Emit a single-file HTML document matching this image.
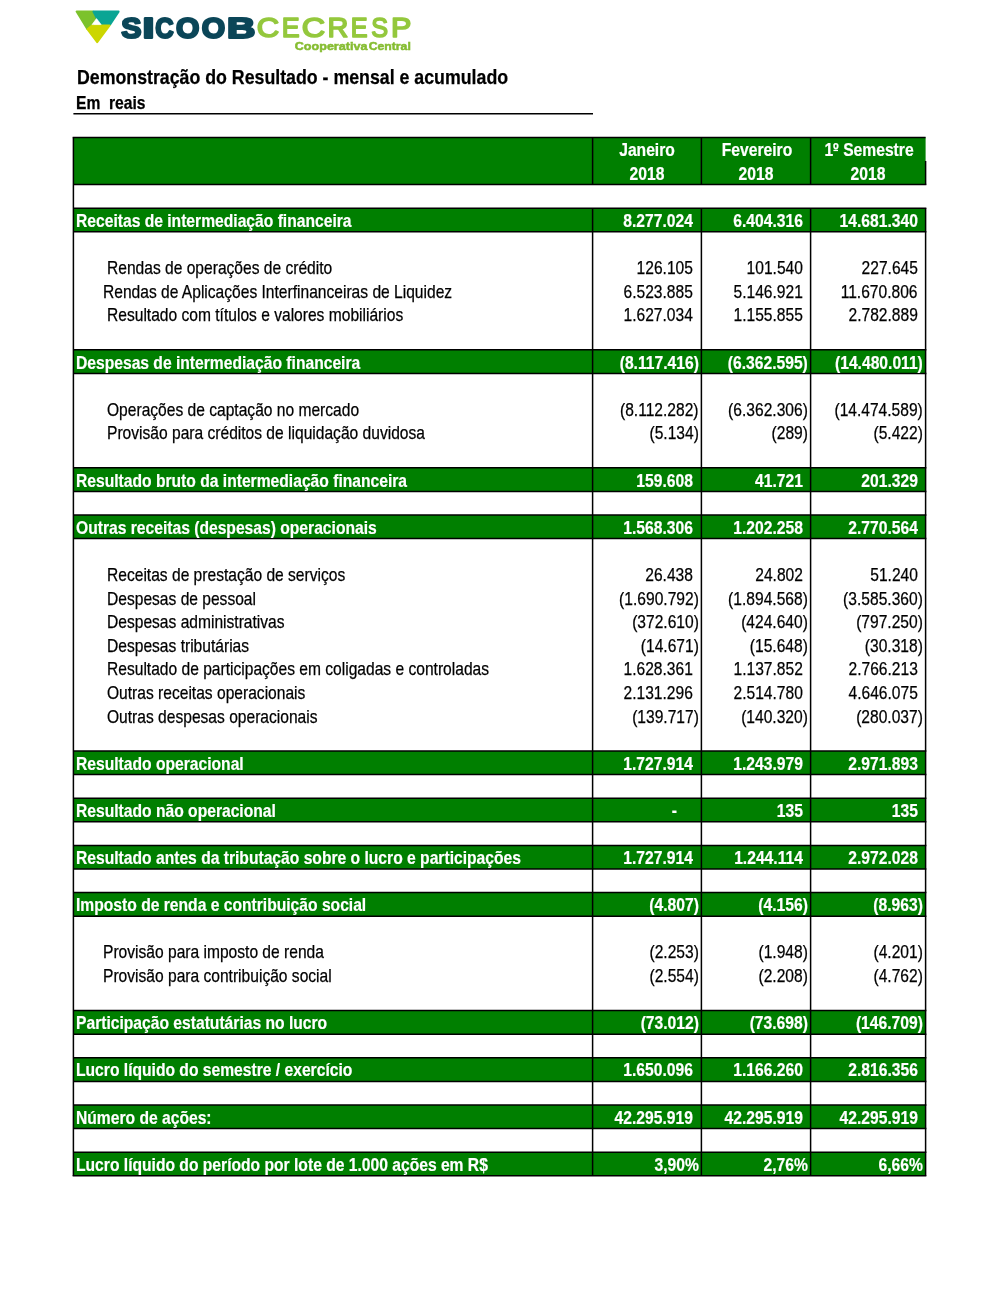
<!DOCTYPE html>
<html lang="pt-BR">
<head>
<meta charset="utf-8">
<title>Demonstração do Resultado - mensal e acumulado</title>
<style>
html,body{margin:0;padding:0;background:#fff;}
body{width:1000px;height:1294px;position:relative;overflow:hidden;font-family:"Liberation Sans",Arial,Helvetica,sans-serif;color:#000;}
#grid,#logo{position:absolute;left:0;top:0;}
#logo{filter:blur(0.35px);}
#grid line{stroke:#000;stroke-width:1.5;}
.l,.r,.c{position:absolute;white-space:pre;font-size:17.97px;line-height:24px;height:24px;transform:scaleX(0.868);}
.l{transform-origin:0 0;}
.r{transform-origin:100% 0;text-align:right;}
.c{transform-origin:50% 0;text-align:center;width:200px;}
.l,.r{-webkit-text-stroke:0.25px #000;}
.b{font-weight:bold;transform:scaleX(0.871);-webkit-text-stroke:0.2px #fff;}
.w{color:#fff;}
#title,#sub{-webkit-text-stroke:0.25px #000;}
#title{position:absolute;left:77.0px;top:63.5px;font-size:20.6px;line-height:26px;font-weight:bold;white-space:pre;transform:scaleX(0.862);transform-origin:0 0;}
#sub{position:absolute;left:76.4px;top:91px;font-size:17.97px;line-height:24px;font-weight:bold;white-space:pre;transform:scaleX(0.871);transform-origin:0 0;}
</style>
</head>
<body>
<svg id="grid" width="1000" height="1294" viewBox="0 0 1000 1294">
<rect x="73.4" y="137.4" width="852.2" height="47.2" fill="#007f00"/>
<rect x="73.4" y="208.20" width="852.20" height="23.6" fill="#007f00"/>
<rect x="73.4" y="349.80" width="852.20" height="23.6" fill="#007f00"/>
<rect x="73.4" y="467.80" width="852.20" height="23.6" fill="#007f00"/>
<rect x="73.4" y="515.00" width="852.20" height="23.6" fill="#007f00"/>
<rect x="73.4" y="751.00" width="852.20" height="23.6" fill="#007f00"/>
<rect x="73.4" y="798.20" width="852.20" height="23.6" fill="#007f00"/>
<rect x="73.4" y="845.40" width="852.20" height="23.6" fill="#007f00"/>
<rect x="73.4" y="892.60" width="852.20" height="23.6" fill="#007f00"/>
<rect x="73.4" y="1010.60" width="852.20" height="23.6" fill="#007f00"/>
<rect x="73.4" y="1057.80" width="852.20" height="23.6" fill="#007f00"/>
<rect x="73.4" y="1105.00" width="852.20" height="23.6" fill="#007f00"/>
<rect x="73.4" y="1152.20" width="852.20" height="23.6" fill="#007f00"/>
<line x1="72.65" y1="137.40" x2="925.60" y2="137.40"/>
<line x1="73.40" y1="184.60" x2="926.35" y2="184.60"/>
<line x1="73.40" y1="208.20" x2="926.35" y2="208.20"/>
<line x1="73.40" y1="231.80" x2="926.35" y2="231.80"/>
<line x1="73.40" y1="349.80" x2="926.35" y2="349.80"/>
<line x1="73.40" y1="373.40" x2="926.35" y2="373.40"/>
<line x1="73.40" y1="467.80" x2="926.35" y2="467.80"/>
<line x1="73.40" y1="491.40" x2="926.35" y2="491.40"/>
<line x1="73.40" y1="515.00" x2="926.35" y2="515.00"/>
<line x1="73.40" y1="538.60" x2="926.35" y2="538.60"/>
<line x1="73.40" y1="751.00" x2="926.35" y2="751.00"/>
<line x1="73.40" y1="774.60" x2="926.35" y2="774.60"/>
<line x1="73.40" y1="798.20" x2="926.35" y2="798.20"/>
<line x1="73.40" y1="821.80" x2="926.35" y2="821.80"/>
<line x1="73.40" y1="845.40" x2="926.35" y2="845.40"/>
<line x1="73.40" y1="869.00" x2="926.35" y2="869.00"/>
<line x1="73.40" y1="892.60" x2="926.35" y2="892.60"/>
<line x1="73.40" y1="916.20" x2="926.35" y2="916.20"/>
<line x1="73.40" y1="1010.60" x2="926.35" y2="1010.60"/>
<line x1="73.40" y1="1034.20" x2="926.35" y2="1034.20"/>
<line x1="73.40" y1="1057.80" x2="926.35" y2="1057.80"/>
<line x1="73.40" y1="1081.40" x2="926.35" y2="1081.40"/>
<line x1="73.40" y1="1105.00" x2="926.35" y2="1105.00"/>
<line x1="73.40" y1="1128.60" x2="926.35" y2="1128.60"/>
<line x1="73.40" y1="1152.20" x2="926.35" y2="1152.20"/>
<line x1="72.65" y1="1175.80" x2="926.35" y2="1175.80"/>
<line x1="73.4" y1="137.4" x2="73.4" y2="1175.8000000000002"/>
<line x1="592.6" y1="137.4" x2="592.6" y2="184.60000000000002"/>
<line x1="592.6" y1="208.20000000000002" x2="592.6" y2="1175.8000000000002"/>
<line x1="701.4" y1="137.4" x2="701.4" y2="184.60000000000002"/>
<line x1="701.4" y1="208.20000000000002" x2="701.4" y2="1175.8000000000002"/>
<line x1="810.6" y1="137.4" x2="810.6" y2="184.60000000000002"/>
<line x1="810.6" y1="208.20000000000002" x2="810.6" y2="1175.8000000000002"/>
<line x1="925.6" y1="161.0" x2="925.6" y2="184.60000000000002"/>
<line x1="925.6" y1="208.20000000000002" x2="925.6" y2="1175.8000000000002"/>
<rect x="833.4" y="149.8" width="4.6" height="1.3" fill="#fff"/>
<line x1="73.4" y1="113.7" x2="593" y2="113.7" stroke-width="1.6"/>
</svg>
<svg id="logo" width="440" height="62" viewBox="0 0 440 62">
<g stroke-linejoin="round" stroke-width="2">
<polygon points="76.6,11.6 93.0,11.6 96.5,18.2 92.4,24.8 87.0,28.6" fill="#7cc22c" stroke="#7cc22c"/>
<polygon points="93.4,11.6 118.6,11.6 110.0,24.6 101.8,24.6 96.5,17.6" fill="#0aa594" stroke="#0aa594"/>
<polygon points="92.4,25.4 109.6,25.4 97.2,42.2 87.4,29.2" fill="#ccd600" stroke="#ccd600"/>
<polygon points="96.5,18.6 101.2,24.6 92.0,24.6" fill="#fff" stroke="#fff" stroke-width="0.6"/>
</g>
<text y="37.7" font-family="'Liberation Sans',Arial,sans-serif" font-weight="bold" font-size="29.5" fill="#0b4658" stroke="#0b4658" stroke-width="2.2" stroke-linejoin="round"><tspan x="121.32" textLength="20.26" lengthAdjust="spacingAndGlyphs">S</tspan><tspan x="142.52" textLength="11.96" lengthAdjust="spacingAndGlyphs">I</tspan><tspan x="155.15" textLength="18.45" lengthAdjust="spacingAndGlyphs">C</tspan><tspan x="175.97" textLength="23.40" lengthAdjust="spacingAndGlyphs">O</tspan><tspan x="201.87" textLength="23.40" lengthAdjust="spacingAndGlyphs">O</tspan><tspan x="227.08" textLength="28.30" lengthAdjust="spacingAndGlyphs">B</tspan></text>
<text y="37.2" font-family="'Liberation Sans',Arial,sans-serif" font-size="27.4" fill="#94c83d" stroke="#94c83d" stroke-width="1.6" stroke-linejoin="round"><tspan x="256.87" textLength="22.41" lengthAdjust="spacingAndGlyphs">C</tspan><tspan x="281.75" textLength="17.91" lengthAdjust="spacingAndGlyphs">E</tspan><tspan x="301.86" textLength="23.38" lengthAdjust="spacingAndGlyphs">C</tspan><tspan x="327.49" textLength="20.80" lengthAdjust="spacingAndGlyphs">R</tspan><tspan x="350.73" textLength="16.86" lengthAdjust="spacingAndGlyphs">E</tspan><tspan x="371.20" textLength="16.86" lengthAdjust="spacingAndGlyphs">S</tspan><tspan x="391.10" textLength="20.36" lengthAdjust="spacingAndGlyphs">P</tspan></text>
<text y="49.7" font-family="'Liberation Sans',Arial,sans-serif" font-weight="bold" font-size="11.2" fill="#86bd32" stroke="#86bd32" stroke-width="0.5"><tspan x="294.8" textLength="72.6" lengthAdjust="spacingAndGlyphs">Cooperativa</tspan> <tspan x="368.7" textLength="42.1" lengthAdjust="spacingAndGlyphs">Central</tspan></text>
</svg>
<div id="title">Demonstração do Resultado - mensal e acumulado</div>
<div id="sub">Em  reais</div>
<div class="l b w" style="left:76.0px;top:209px">Receitas de intermediação financeira</div>
<div class="r b w" style="right:307.20px;top:209px">8.277.024</div>
<div class="r b w" style="right:197.20px;top:209px">6.404.316</div>
<div class="r b w" style="right:82.20px;top:209px">14.681.340</div>
<div class="l" style="left:106.9px;top:256px">Rendas de operações de crédito</div>
<div class="r" style="right:307.20px;top:256px">126.105</div>
<div class="r" style="right:197.20px;top:256px">101.540</div>
<div class="r" style="right:82.20px;top:256px">227.645</div>
<div class="l" style="left:102.9px;top:280px">Rendas de Aplicações Interfinanceiras de Liquidez</div>
<div class="r" style="right:307.20px;top:280px">6.523.885</div>
<div class="r" style="right:197.20px;top:280px">5.146.921</div>
<div class="r" style="right:82.20px;top:280px">11.670.806</div>
<div class="l" style="left:106.9px;top:303px">Resultado com títulos e valores mobiliários</div>
<div class="r" style="right:307.20px;top:303px">1.627.034</div>
<div class="r" style="right:197.20px;top:303px">1.155.855</div>
<div class="r" style="right:82.20px;top:303px">2.782.889</div>
<div class="l b w" style="left:76.0px;top:351px">Despesas de intermediação financeira</div>
<div class="r b w" style="right:301.20px;top:351px">(8.117.416)</div>
<div class="r b w" style="right:191.70px;top:351px">(6.362.595)</div>
<div class="r b w" style="right:77.00px;top:351px">(14.480.011)</div>
<div class="l" style="left:106.9px;top:398px">Operações de captação no mercado</div>
<div class="r" style="right:301.20px;top:398px">(8.112.282)</div>
<div class="r" style="right:191.70px;top:398px">(6.362.306)</div>
<div class="r" style="right:77.00px;top:398px">(14.474.589)</div>
<div class="l" style="left:106.9px;top:421px">Provisão para créditos de liquidação duvidosa</div>
<div class="r" style="right:301.20px;top:421px">(5.134)</div>
<div class="r" style="right:191.70px;top:421px">(289)</div>
<div class="r" style="right:77.00px;top:421px">(5.422)</div>
<div class="l b w" style="left:76.0px;top:469px">Resultado bruto da intermediação financeira</div>
<div class="r b w" style="right:307.20px;top:469px">159.608</div>
<div class="r b w" style="right:197.20px;top:469px">41.721</div>
<div class="r b w" style="right:82.20px;top:469px">201.329</div>
<div class="l b w" style="left:76.0px;top:516px">Outras receitas (despesas) operacionais</div>
<div class="r b w" style="right:307.20px;top:516px">1.568.306</div>
<div class="r b w" style="right:197.20px;top:516px">1.202.258</div>
<div class="r b w" style="right:82.20px;top:516px">2.770.564</div>
<div class="l" style="left:106.9px;top:563px">Receitas de prestação de serviços</div>
<div class="r" style="right:307.20px;top:563px">26.438</div>
<div class="r" style="right:197.20px;top:563px">24.802</div>
<div class="r" style="right:82.20px;top:563px">51.240</div>
<div class="l" style="left:106.9px;top:587px">Despesas de pessoal</div>
<div class="r" style="right:301.20px;top:587px">(1.690.792)</div>
<div class="r" style="right:191.70px;top:587px">(1.894.568)</div>
<div class="r" style="right:77.00px;top:587px">(3.585.360)</div>
<div class="l" style="left:106.9px;top:610px">Despesas administrativas</div>
<div class="r" style="right:301.20px;top:610px">(372.610)</div>
<div class="r" style="right:191.70px;top:610px">(424.640)</div>
<div class="r" style="right:77.00px;top:610px">(797.250)</div>
<div class="l" style="left:106.9px;top:634px">Despesas tributárias</div>
<div class="r" style="right:301.20px;top:634px">(14.671)</div>
<div class="r" style="right:191.70px;top:634px">(15.648)</div>
<div class="r" style="right:77.00px;top:634px">(30.318)</div>
<div class="l" style="left:106.9px;top:657px">Resultado de participações em coligadas e controladas</div>
<div class="r" style="right:307.20px;top:657px">1.628.361</div>
<div class="r" style="right:197.20px;top:657px">1.137.852</div>
<div class="r" style="right:82.20px;top:657px">2.766.213</div>
<div class="l" style="left:106.9px;top:681px">Outras receitas operacionais</div>
<div class="r" style="right:307.20px;top:681px">2.131.296</div>
<div class="r" style="right:197.20px;top:681px">2.514.780</div>
<div class="r" style="right:82.20px;top:681px">4.646.075</div>
<div class="l" style="left:106.9px;top:705px">Outras despesas operacionais</div>
<div class="r" style="right:301.20px;top:705px">(139.717)</div>
<div class="r" style="right:191.70px;top:705px">(140.320)</div>
<div class="r" style="right:77.00px;top:705px">(280.037)</div>
<div class="l b w" style="left:76.0px;top:752px">Resultado operacional</div>
<div class="r b w" style="right:307.20px;top:752px">1.727.914</div>
<div class="r b w" style="right:197.20px;top:752px">1.243.979</div>
<div class="r b w" style="right:82.20px;top:752px">2.971.893</div>
<div class="l b w" style="left:76.0px;top:799px">Resultado não operacional</div>
<div class="r b w" style="right:323.10px;top:799px">-</div>
<div class="r b w" style="right:197.20px;top:799px">135</div>
<div class="r b w" style="right:82.20px;top:799px">135</div>
<div class="l b w" style="left:76.0px;top:846px">Resultado antes da tributação sobre o lucro e participações</div>
<div class="r b w" style="right:307.20px;top:846px">1.727.914</div>
<div class="r b w" style="right:197.20px;top:846px">1.244.114</div>
<div class="r b w" style="right:82.20px;top:846px">2.972.028</div>
<div class="l b w" style="left:76.0px;top:893px">Imposto de renda e contribuição social</div>
<div class="r b w" style="right:301.20px;top:893px">(4.807)</div>
<div class="r b w" style="right:191.70px;top:893px">(4.156)</div>
<div class="r b w" style="right:77.00px;top:893px">(8.963)</div>
<div class="l" style="left:102.9px;top:940px">Provisão para imposto de renda</div>
<div class="r" style="right:301.20px;top:940px">(2.253)</div>
<div class="r" style="right:191.70px;top:940px">(1.948)</div>
<div class="r" style="right:77.00px;top:940px">(4.201)</div>
<div class="l" style="left:102.9px;top:964px">Provisão para contribuição social</div>
<div class="r" style="right:301.20px;top:964px">(2.554)</div>
<div class="r" style="right:191.70px;top:964px">(2.208)</div>
<div class="r" style="right:77.00px;top:964px">(4.762)</div>
<div class="l b w" style="left:76.0px;top:1011px">Participação estatutárias no lucro</div>
<div class="r b w" style="right:301.20px;top:1011px">(73.012)</div>
<div class="r b w" style="right:191.70px;top:1011px">(73.698)</div>
<div class="r b w" style="right:77.00px;top:1011px">(146.709)</div>
<div class="l b w" style="left:76.0px;top:1058px">Lucro líquido do semestre / exercício</div>
<div class="r b w" style="right:307.20px;top:1058px">1.650.096</div>
<div class="r b w" style="right:197.20px;top:1058px">1.166.260</div>
<div class="r b w" style="right:82.20px;top:1058px">2.816.356</div>
<div class="l b w" style="left:76.0px;top:1106px">Número de ações:</div>
<div class="r b w" style="right:307.20px;top:1106px">42.295.919</div>
<div class="r b w" style="right:197.20px;top:1106px">42.295.919</div>
<div class="r b w" style="right:82.20px;top:1106px">42.295.919</div>
<div class="l b w" style="left:76.0px;top:1153px">Lucro líquido do período por lote de 1.000 ações em R$</div>
<div class="r b w" style="right:301.20px;top:1153px">3,90%</div>
<div class="r b w" style="right:191.70px;top:1153px">2,76%</div>
<div class="r b w" style="right:77.00px;top:1153px">6,66%</div>
<div class="c b w" style="left:547.00px;top:138px">Janeiro</div>
<div class="c b w" style="left:547.00px;top:162px">2018</div>
<div class="c b w" style="left:657.00px;top:138px">Fevereiro</div>
<div class="c b w" style="left:656.00px;top:162px">2018</div>
<div class="c b w" style="left:769.10px;top:138px">1º Semestre</div>
<div class="c b w" style="left:768.10px;top:162px">2018</div>
</body>
</html>
